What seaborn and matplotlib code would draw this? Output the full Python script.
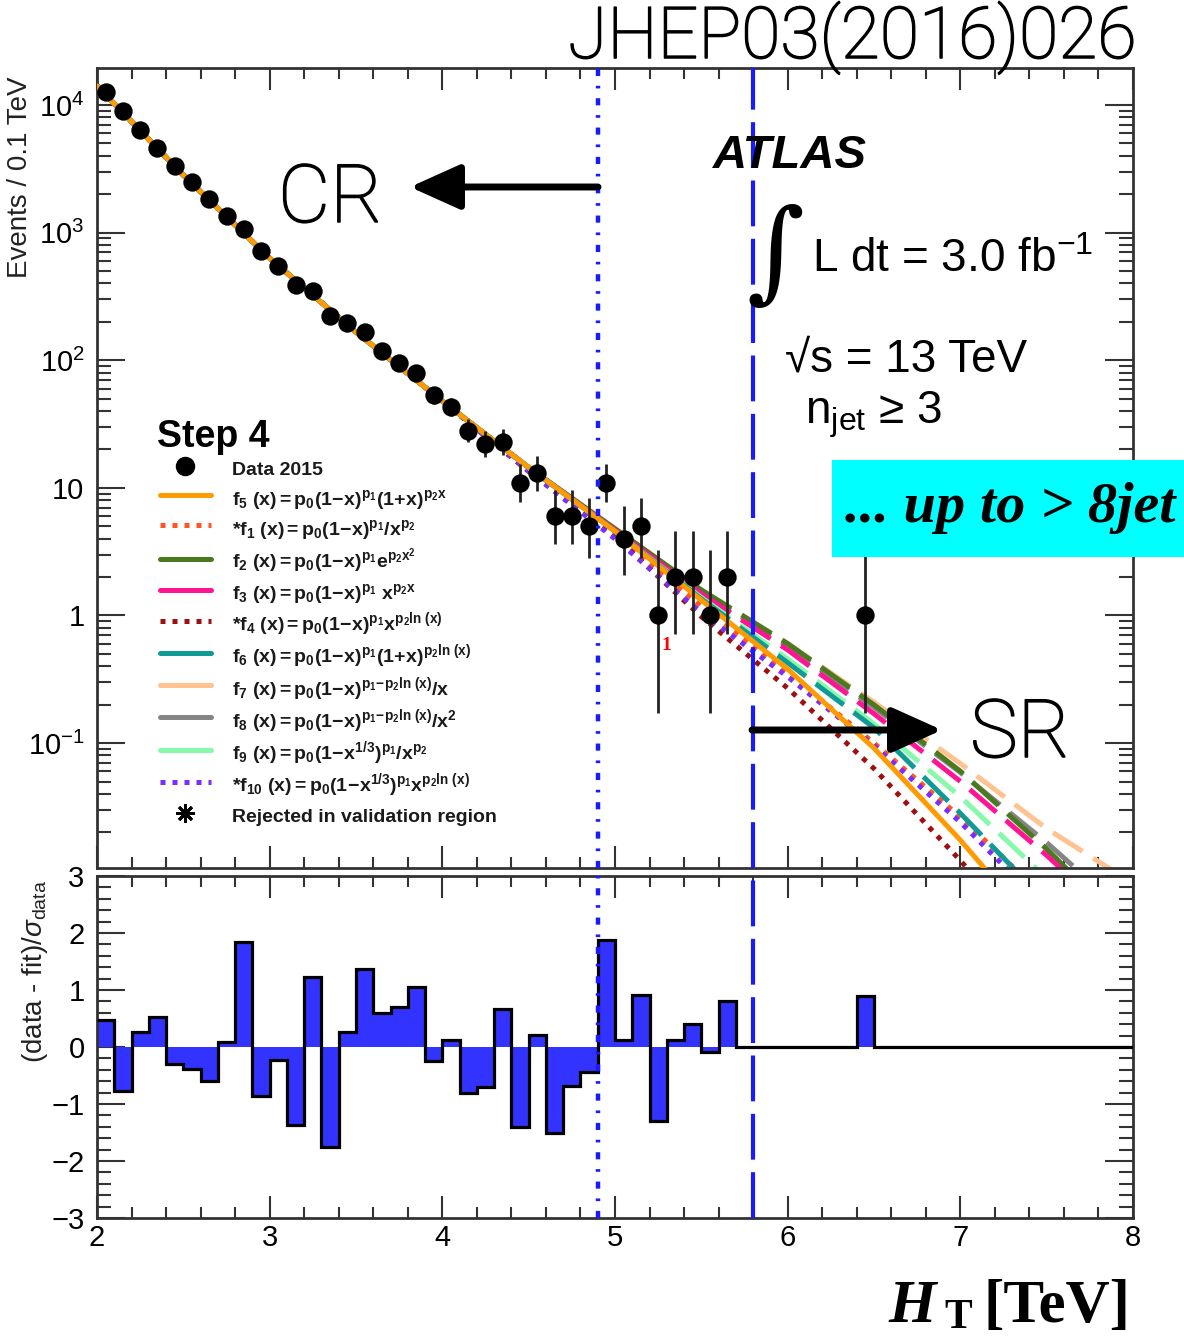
import numpy as np
import matplotlib
matplotlib.use('Agg')
import matplotlib.pyplot as plt
import matplotlib.patheffects as pe
import seaborn as sns
from matplotlib.lines import Line2D
from matplotlib.patches import Rectangle, FancyArrowPatch
from matplotlib.ticker import MultipleLocator, LogLocator, FuncFormatter, NullFormatter

# ---- data ----
# data points (bin centres, TeV) and event counts per 0.1 TeV
data_ht = [2.05, 2.15, 2.25, 2.35, 2.45, 2.55, 2.65, 2.75, 2.85, 2.95,
           3.05, 3.15, 3.25, 3.35, 3.45, 3.55, 3.65, 3.75, 3.85, 3.95,
           4.05, 4.15, 4.25, 4.35, 4.45, 4.55, 4.65, 4.75, 4.85, 4.95,
           5.05, 5.15, 5.25, 5.35, 5.45, 5.55, 5.65, 6.45]
data_n = [12600, 9000, 6400, 4600, 3340, 2500, 1820, 1360, 1070, 720,
          550, 390, 350, 224, 196, 167, 119, 96, 80, 53,
          43, 28, 22, 23, 11, 13, 6, 6, 5, 11,
          4, 5, 1, 2, 2, 1, 2, 1]

# fit curves: log10(events) at these HT values
fit_ht = [2.0, 2.5, 3.0, 3.5, 4.0, 4.5, 5.0, 5.5, 6.0, 6.5, 7.0, 7.5, 8.0]
f5_log = [4.15, 3.45, 2.80, 2.22, 1.68, 1.16, 0.66, 0.12, -0.42, -1.04, -1.76, -2.55, -3.45]
f1_log = [4.15, 3.45, 2.80, 2.22, 1.68, 1.15, 0.64, 0.07, -0.45, -1.00, -1.58, -2.22, -2.95]
f2_log = [4.15, 3.45, 2.80, 2.22, 1.68, 1.16, 0.68, 0.20, -0.22, -0.70, -1.22, -1.83, -2.50]
f3_log = [4.15, 3.45, 2.80, 2.22, 1.68, 1.16, 0.67, 0.17, -0.27, -0.77, -1.30, -1.88, -2.50]
f4_log = [4.15, 3.45, 2.80, 2.22, 1.68, 1.13, 0.62, -0.01, -0.57, -1.20, -1.92, -2.70, -3.60]
f6_log = [4.15, 3.45, 2.80, 2.22, 1.68, 1.16, 0.66, 0.13, -0.37, -0.88, -1.55, -2.25, -3.00]
f7_log = [4.15, 3.45, 2.80, 2.22, 1.68, 1.16, 0.68, 0.20, -0.22, -0.68, -1.16, -1.67, -2.10]
f8_log = [4.15, 3.45, 2.80, 2.22, 1.68, 1.16, 0.67, 0.19, -0.24, -0.72, -1.23, -1.78, -2.38]
f9_log = [4.15, 3.45, 2.80, 2.22, 1.68, 1.16, 0.66, 0.14, -0.34, -0.85, -1.42, -2.06, -2.75]
f10_log = [4.15, 3.45, 2.80, 2.22, 1.68, 1.13, 0.60, 0.02, -0.48, -1.02, -1.62, -2.30, -3.05]

# residual histogram (data - fit)/sigma, 0.1 TeV bins from 2 to 8 TeV
resid = [0.47, -0.78, 0.26, 0.52, -0.29, -0.39, -0.59, 0.09, 1.85, -0.86,
         -0.22, -1.37, 1.23, -1.75, 0.26, 1.36, 0.60, 0.71, 1.06, -0.24,
         0.12, -0.81, -0.71, 0.66, -1.40, 0.21, -1.51, -0.68, -0.44, 1.87,
         0.13, 0.92, -1.30, 0.13, 0.40, -0.09, 0.80, 0, 0, 0,
         0, 0, 0, 0, 0.89, 0, 0, 0, 0, 0,
         0, 0, 0, 0, 0, 0, 0, 0, 0, 0]
edges = np.linspace(2.0, 8.0, 61)

cr_edge = 4.9
sr_edge = 5.8

# ---- styles ----
curves = [
    # name, log values, colour, linestyle, dashed extrapolation
    ('f1', f1_log, '#ff5522', (0, (1, 1.4)), False),
    ('f4', f4_log, '#9e1010', (0, (1, 1.4)), False),
    ('f10', f10_log, '#7b2cff', (0, (1, 1.4)), False),
    ('f7', f7_log, '#ffc290', '-', True),
    ('f8', f8_log, '#858585', '-', True),
    ('f2', f2_log, '#4b7a1e', '-', True),
    ('f3', f3_log, '#ff1493', '-', True),
    ('f9', f9_log, '#86f9aa', '-', True),
    ('f6', f6_log, '#109a96', '-', True),
    ('f5', f5_log, '#ff9a00', '-', False),
]
colors = {c[0]: c[2] for c in curves}
styles = {c[0]: c[3] for c in curves}

sns.set_theme(style='ticks')
plt.rcParams['font.family'] = ['Liberation Sans', 'DejaVu Sans']
plt.rcParams['mathtext.fontset'] = 'custom'
plt.rcParams['mathtext.rm'] = 'Liberation Sans'
plt.rcParams['mathtext.it'] = 'Liberation Sans:italic'
plt.rcParams['mathtext.bf'] = 'Liberation Sans:bold'
plt.rcParams['axes.edgecolor'] = '#333333'
for key in ['text.color', 'axes.labelcolor', 'xtick.labelcolor', 'ytick.labelcolor']:
    plt.rcParams[key] = 'black'

W, H = 1184, 1337
fig = plt.figure(figsize=(W / 100, H / 100), dpi=100)
ax = fig.add_axes([97 / W, 1 - 868 / H, 1036 / W, 800 / H])
axr = fig.add_axes([97 / W, 1 - 1218 / H, 1036 / W, 342 / H])

# ---- upper panel ----
ax.set_yscale('log')
for name, logs, col, ls, dash_ext in curves:
    x = np.array(fit_ht)
    y = 10 ** np.array(logs)
    if dash_ext:
        m = x <= 5.5
        k = x >= 5.5
        sns.lineplot(x=x[m], y=y[m], ax=ax, color=col, lw=3.6, linestyle='-', sort=False, zorder=2)
        sns.lineplot(x=x[k], y=y[k], ax=ax, color=col, lw=3.6, linestyle=(0, (7, 2.5)),
                     sort=False, zorder=2)
    else:
        sns.lineplot(x=x, y=y, ax=ax, color=col, lw=3.6, linestyle=ls, sort=False,
                     zorder=3 if name == 'f5' else 2)

n = np.array(data_n, dtype=float)
lo = n * (1 - 1 / (9 * n) - 1 / (3 * np.sqrt(n))) ** 3
hi = (n + 1) * (1 - 1 / (9 * (n + 1)) + 1 / (3 * np.sqrt(n + 1))) ** 3
ax.errorbar(data_ht, n, yerr=[n - lo, hi - n], fmt='none', ecolor='#222222', elinewidth=2,
            capsize=0, zorder=4)
sns.scatterplot(x=data_ht, y=n, ax=ax, color='black', s=175, linewidth=0, zorder=5, legend=False)

ax.set_xlim(2, 8)
ax.set_ylim(0.0105, 19500)

dec_labels = {0.1: r'10$^{-1}$', 1: '1', 10: '10', 100: r'10$^{2}$', 1000: r'10$^{3}$', 10000: r'10$^{4}$'}
ax.yaxis.set_major_locator(LogLocator(base=10, numticks=20))
ax.yaxis.set_minor_locator(LogLocator(base=10, subs=np.arange(2, 10), numticks=20))
ax.yaxis.set_major_formatter(FuncFormatter(lambda v, p: dec_labels.get(round(v, 6), '')))
ax.yaxis.set_minor_formatter(NullFormatter())
ax.xaxis.set_major_locator(MultipleLocator(1))
ax.xaxis.set_minor_locator(MultipleLocator(0.2))
ax.tick_params(axis='x', labelbottom=False)

for a in (ax, axr):
    a.tick_params(which='both', direction='in', top=True, right=True, color='#333333', width=1.5,
                  labelsize=21, labelcolor='black')
    a.tick_params(axis='x', which='major', length=16, pad=4)
    a.tick_params(axis='x', which='minor', length=8)
    a.tick_params(axis='y', which='major', length=20, pad=9)
    a.tick_params(axis='y', which='minor', length=10)
    for s in a.spines.values():
        s.set_linewidth(2)
    a.axvline(cr_edge, color='#1a1aff', lw=3.2, linestyle=(0, (1.6, 2.2, 0.6, 2.2)), zorder=6)
    a.axvline(sr_edge, color='#1a1aff', lw=3, linestyle=(0, (11, 3)), zorder=6)
    a.set_xlabel('')

ax.set_ylabel('Events / 0.1 TeV', fontsize=20, loc='top', color='#222222')
ax.yaxis.set_label_coords(-0.062, 0.99)

ax.text(5.3, 0.58, '1', color='red', fontsize=14, family='Liberation Serif', weight='bold',
        ha='center', va='center')

# legend
def fl(body):
    return r'$\mathbf{' + body + '}$'

handles = [Line2D([], [], color='black', marker='o', markersize=13, linestyle='none')]
labels = ['Data 2015']
entries = [
    ('f5', '', r'f_5\ (x) = p_0(1\!-\!x)^{p_1}(1\!+\!x)^{p_2x}'),
    ('f1', '*', r'f_1\ (x) = p_0(1\!-\!x)^{p_1}/x^{p_2}'),
    ('f2', '', r'f_2\ (x) = p_0(1\!-\!x)^{p_1}e^{p_2x^2}'),
    ('f3', '', r'f_3\ (x) = p_0(1\!-\!x)^{p_1}\ x^{p_2x}'),
    ('f4', '*', r'f_4\ (x) = p_0(1\!-\!x)^{p_1}x^{p_2 ln\ (x)}'),
    ('f6', '', r'f_6\ (x) = p_0(1\!-\!x)^{p_1}(1\!+\!x)^{p_2 ln\ (x)}'),
    ('f7', '', r'f_7\ (x) = p_0(1\!-\!x)^{p_1\!-\!p_2 ln\ (x)}/x'),
    ('f8', '', r'f_8\ (x) = p_0(1\!-\!x)^{p_1\!-\!p_2 ln\ (x)}/x^2'),
    ('f9', '', r'f_9\ (x) = p_0(1\!-\!x^{1/3})^{p_1}/x^{p_2}'),
    ('f10', '*', r'f_{10}\ (x) = p_0(1\!-\!x^{1/3})^{p_1}x^{p_2 ln\ (x)}'),
]
for name, star, body in entries:
    handles.append(Line2D([], [], color=colors[name], lw=3.6, linestyle=styles[name]))
    labels.append(star + fl(body))
handles.append(Line2D([], [], color='black', marker=(8, 2, 0), markersize=13, markeredgewidth=2,
                      linestyle='none'))
labels.append('Rejected in validation region')

leg = ax.legend(handles, labels, loc='upper left', bbox_to_anchor=(0.0608, 0.515), frameon=False,
                prop={'size': 14, 'weight': 'bold'}, handlelength=2.6, handleheight=1.63,
                labelspacing=0.22, handletextpad=1.1, borderpad=0, borderaxespad=0)
for t in leg.get_texts():
    t.set_color('#1a1a1a')
leg.set_zorder(7)

# ---- residual panel ----
axr.stairs(resid, edges, fill=True, color='#3333ff', baseline=0, zorder=2)
axr.stairs(resid, edges, baseline=None, color='black', lw=2.3, zorder=3)
axr.set_xlim(2, 8)
axr.set_ylim(-3, 3)
axr.xaxis.set_major_locator(MultipleLocator(1))
axr.xaxis.set_minor_locator(MultipleLocator(0.2))
axr.yaxis.set_major_locator(MultipleLocator(1))
axr.yaxis.set_minor_locator(MultipleLocator(0.2))
axr.set_ylabel(r'(data - fit)/$\sigma_{\mathrm{data}}$', fontsize=20, loc='top', color='#222222')
axr.yaxis.set_label_coords(-0.045, 0.99)

# ---- annotations (figure pixels) ----
def fx(px):
    return px / W

def fy(py):
    return 1 - py / H

thicken = [pe.withStroke(linewidth=1.1, foreground='black')]
big = dict(family=['Roboto', 'DejaVu Sans'], weight='light', color='black', ha='left', va='baseline',
           path_effects=thicken)
fig.text(fx(568), fy(58), 'JHEP03(2016)026', fontsize=51.5, **big)
fig.text(fx(278), fy(222), 'CR', fontsize=58, **big)
fig.text(fx(970), fy(757), 'SR', fontsize=58, **big)
for x0, x1, yy in [(598, 410, 187), (752, 942, 730)]:
    fig.add_artist(FancyArrowPatch(
        (fx(x0), fy(yy)), (fx(x1), fy(yy)), transform=fig.transFigure,
        arrowstyle='-|>,head_length=1.0,head_width=0.45', mutation_scale=31,
        lw=5, color='black', shrinkA=0, shrinkB=0, zorder=8))

fig.text(fx(713), fy(168), 'ATLAS', fontsize=34, weight='bold', style='italic', ha='left', va='baseline')
fig.text(fx(746), fy(258), '\u222b', fontsize=80, family='DejaVu Serif', ha='left', va='center')
fig.text(fx(812), fy(272), r'L dt = 3.0 fb$^{-1}$', fontsize=33, ha='left', va='baseline')
fig.text(fx(785), fy(372), '\u221as = 13 TeV', fontsize=33, ha='left', va='baseline')
fig.text(fx(805), fy(424), 'n$_{\\mathrm{jet}}$ \u2265 3', fontsize=33, ha='left', va='baseline')
fig.text(fx(157), fy(447), 'Step 4', fontsize=27, weight='bold', ha='left', va='baseline')

fig.add_artist(Rectangle((fx(832), fy(557)), (1184 - 832) / W, 97 / H, transform=fig.transFigure,
                         facecolor='#00ffff', edgecolor='none', zorder=9))
fig.text(fx(845), fy(508), '... up to > 8jet', fontsize=42, family='Liberation Serif', weight='bold',
         style='italic', ha='left', va='center', zorder=10)

fig.text(fx(888), fy(1322), 'H', fontsize=44, family='Liberation Serif', weight='bold', style='italic',
         ha='left', va='baseline')
fig.text(fx(944), fy(1328), 'T', fontsize=30, family='Liberation Serif', weight='bold',
         ha='left', va='baseline')
fig.text(fx(984), fy(1322), '[TeV]', fontsize=44, family='Liberation Serif', weight='bold',
         ha='left', va='baseline')

fig.savefig('out.png', dpi=100)
